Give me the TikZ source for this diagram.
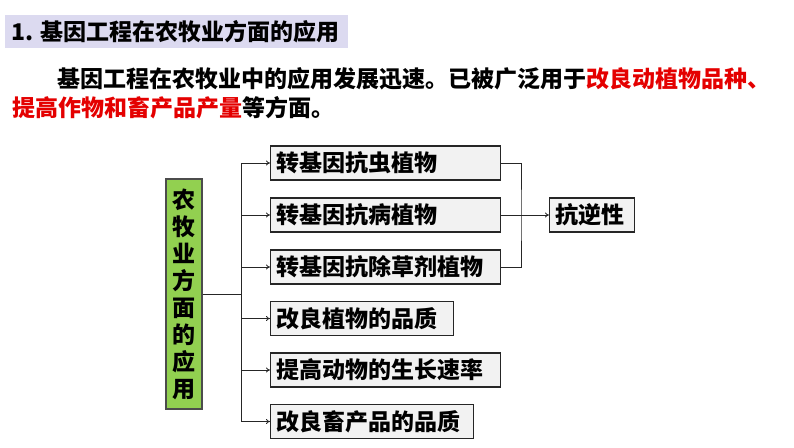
\documentclass[tikz,border=0pt]{standalone}
\usepackage{fontspec}
\newfontfamily\cjk{Noto Sans CJK SC}[BoldFont={Noto Sans CJK SC Black}]
\usetikzlibrary{arrows.meta}
\definecolor{titlebg}{RGB}{220,218,240}
\definecolor{hlred}{RGB}{228,0,0}
\definecolor{leafgreen}{RGB}{146,208,80}
\definecolor{boxfill}{RGB}{242,242,242}
\begin{document}
\begin{tikzpicture}[x=1pt,y=-1pt,
  itembox/.style={draw=black!85, line width=1.3pt, fill=boxfill, anchor=west,
    inner xsep=6pt, inner ysep=0pt, minimum height=34pt, align=left,
    font=\cjk\bfseries\fontsize{23}{23}\selectfont},
  arr/.style={-{To[length=4pt,width=5pt]}, line width=0.8pt, draw=black!85},
  link/.style={line width=0.8pt, draw=black!85},
  bigtext/.style={anchor=west, inner sep=0pt, font=\cjk\bfseries\fontsize{23}{23}\selectfont}
]
\useasboundingbox (0,0) rectangle (794,447);
% title
\node[fill=titlebg, minimum width=343pt, minimum height=33pt, inner sep=0pt] (title) at (176.5,31.5) {};
\node[bigtext] (titletext) at (11,32) {1. 基因工程在农牧业方面的应用};
% paragraph
\node[bigtext] (p1) at (57,79) {基因工程在农牧业中的应用发展迅速。已被广泛用于\textcolor{hlred}{改良动植物品种、}};
\node[bigtext] (p2) at (12,108) {\textcolor{hlred}{提高作物和畜产品产量}等方面。};
% green box
\node[draw=black!70, line width=1.3pt, fill=leafgreen, minimum width=36pt, minimum height=230pt,
  inner sep=0pt, align=center, font=\cjk\bfseries\fontsize{23}{27}\selectfont] (g) at (184,294)
  {农\\牧\\业\\方\\面\\的\\应\\用};
% items
\node[itembox, text width=218pt] (b1) at (270,163) {转基因抗虫植物};
\node[itembox, text width=218pt] (b2) at (270,215) {转基因抗病植物};
\node[itembox, text width=218pt] (b3) at (270,267) {转基因抗除草剂植物};
\node[itembox, text width=171pt] (b4) at (270,318.5) {改良植物的品质};
\node[itembox, text width=218pt] (b5) at (270,370) {提高动物的生长速率};
\node[itembox, text width=191pt] (b6) at (270,421.5) {改良畜产品的品质};
\node[itembox, text width=73pt] (k) at (549,215) {抗逆性};
% trunk
\coordinate (t1) at (241,163);
\coordinate (t6) at (241,421.5);
\draw[link] (g.east) -- (g.east -| t1);
\draw[link] (t1) -- (t6);
\foreach \b in {b1,b2,b3,b4,b5,b6}{
  \draw[arr] (t1 |- \b.west) -- (\b.west);
}
% right bracket
\coordinate (r) at (521,215);
\draw[link] (b1.east) -| (r) |- (b3.east);
\draw[link] (b2.east) -- (r);
\draw[arr] (r) -- (k.west);
\end{tikzpicture}
\end{document}
